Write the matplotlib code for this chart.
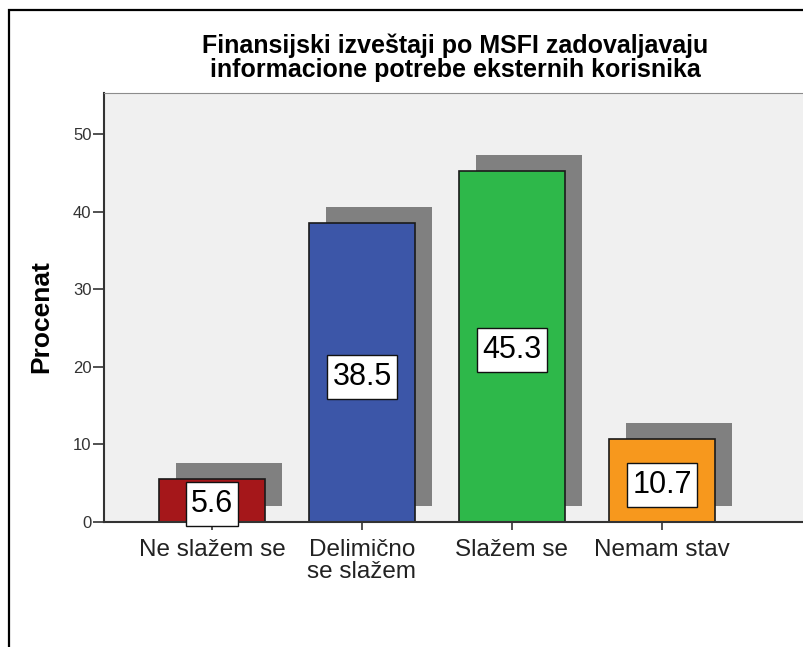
import matplotlib.pyplot as plt
from matplotlib.patches import Rectangle
from matplotlib.path import Path

plt.rcParams['font.family'] = ['Liberation Sans', 'DejaVu Sans']

# data
categories = ['Ne slažem se', 'Delimično\nse slažem', 'Slažem se', 'Nemam stav']
values = [5.6, 38.5, 45.3, 10.7]
colors = ['#A5171A', '#3C56A8', '#2EB84A', '#F7981D']
yticks = [0, 10, 20, 30, 40, 50]

W, H = 804, 647
fig = plt.figure(figsize=(W / 100, H / 100), dpi=100)

# outer frame (only left/top edges visible)
fig.patches.append(Rectangle((9 / W, -0.1), 1.2, 1 - 10 / H + 0.1, transform=fig.transFigure,
                             fill=False, edgecolor='black', linewidth=1.6))

ax = fig.add_axes([104 / W, (H - 522) / H, 706 / W, 429 / H])
ax.set_facecolor('#F0F0F0')


def label_box(x0, y0, width, height, mutation_size):
    # white value box, wider padding on top/bottom than on the sides
    px = 0.16 * mutation_size
    py = 0.23 * mutation_size
    x0, y0 = x0 - px, y0 - py
    x1, y1 = x0 + width + 2 * px, y0 + height + 2 * py
    return Path([(x0, y0), (x1, y0), (x1, y1), (x0, y1), (x0, y0)], closed=True)


x = list(range(len(categories)))
bw = 0.707
# shadows
ax.bar([i + 0.113 for i in x], values, width=bw, bottom=2.05, color='#808080', zorder=1)
# bars
ax.bar(x, values, width=bw, color=colors, edgecolor='#1a1a1a', linewidth=1.2, zorder=2)

for i, v in zip(x, values):
    ax.annotate(f'{v:.1f}', (i, v / 2), xytext=(0, -3), textcoords='offset points',
                ha='center', va='center', fontsize=22, color='black', zorder=10,
                annotation_clip=False,
                bbox=dict(boxstyle=label_box, facecolor='white', edgecolor='#111111', linewidth=1))

ax.set_xlim(-0.72, -0.72 + 706 / 150)
ax.set_ylim(0, 55.3)
ax.set_yticks(yticks)
ax.set_xticks(x)
ax.set_xticklabels(categories, fontsize=17.5, color='#222222', linespacing=1.0)
ax.tick_params(axis='y', labelsize=12, labelcolor='#333333', length=8, width=1.2, color='#333333', pad=1)
ax.tick_params(axis='x', length=6, width=1.2, color='#333333', pad=6.5)

for s in ['left', 'bottom']:
    ax.spines[s].set_color('#333333')
    ax.spines[s].set_linewidth(1.5)
ax.spines['top'].set_color('#8c8c8c')
ax.spines['right'].set_visible(False)

ax.set_ylabel('Procenat', fontsize=19, fontweight='bold')
ax.yaxis.set_label_coords(-51 / 706, 205 / 429)

fig.text(455 / W, 1 - 58 / H, 'Finansijski izveštaji po MSFI zadovaljavaju\ninformacione potrebe eksternih korisnika',
         ha='center', va='center', fontsize=18, fontweight='bold', linespacing=1.0)

fig.savefig('out.png', dpi=100)
